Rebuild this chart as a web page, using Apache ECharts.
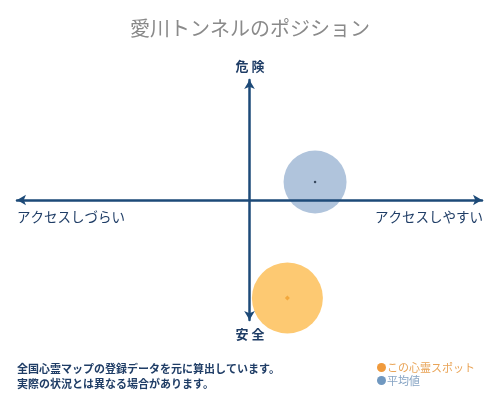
<!DOCTYPE html>
<html><head><meta charset="utf-8">
<script src="https://cdn.jsdelivr.net/npm/echarts@6/dist/echarts.min.js"></script>
<style>html,body{margin:0;padding:0;background:#fff}#c{width:500px;height:400px}</style>
</head><body><div id="c"></div>
<script>
var titleText = '愛川トンネルのポジション';
var axisTop = '危 険', axisBottom = '安 全';
var axisLeft = 'アクセスしづらい', axisRight = 'アクセスしやすい';
var notes = ['全国心霊マップの登録データを元に算出しています。', '実際の状況とは異なる場合があります。'];
var seriesNames = ['この心霊スポット', '平均値'];
var spotPoint = [16.3, -81.7];
var avgPoint = [28.2, 15];

var FONT = '"Noto Sans CJK JP", sans-serif';
var NAVY = '#1d4a78';
var chart = echarts.init(document.getElementById('c'));
chart.setOption({
  animation: false,
  backgroundColor: '#fff',
  title: [
    {text: titleText, left: 'center', top: 18, padding: 0, textStyle: {fontFamily: FONT, fontSize: 20, fontWeight: 'normal', color: '#8a8a8a'}},
    {text: axisTop, left: 'center', top: 60, padding: 0, textStyle: {fontFamily: FONT, fontSize: 13, fontWeight: 'bold', color: '#1f3d66'}},
    {text: axisBottom, left: 'center', top: 328, padding: 0, textStyle: {fontFamily: FONT, fontSize: 13, fontWeight: 'bold', color: '#1f3d66'}},
    {text: axisLeft, left: 17, top: 210, padding: 0, textStyle: {fontFamily: FONT, fontSize: 13.5, fontWeight: 'normal', color: '#1f3d66'}},
    {text: axisRight, right: 17, top: 210, padding: 0, textStyle: {fontFamily: FONT, fontSize: 13.5, fontWeight: 'normal', color: '#1f3d66'}},
    {text: notes.join('\n'), left: 17, top: 361, padding: 0, textStyle: {fontFamily: FONT, fontSize: 11, fontWeight: 'bold', color: '#1f3d66', lineHeight: 15}}
  ],
  legend: {
    orient: 'vertical', left: 377, top: 362, padding: 0, itemWidth: 9, itemHeight: 9, itemGap: 2,
    icon: 'circle',
    data: [
      {name: seriesNames[0], itemStyle: {color: '#f09a3c'}, textStyle: {color: '#e9a457'}},
      {name: seriesNames[1], itemStyle: {color: '#7098c0'}, textStyle: {color: '#86a4c4'}}
    ],
    textStyle: {fontFamily: FONT, fontSize: 11, padding: [0, 0, 0, -4]}
  },
  grid: {left: 17, right: 18, top: 80, bottom: 80},
  xAxis: {
    type: 'value', min: -100, max: 100, z: 10,
    axisLine: {onZero: true, lineStyle: {color: NAVY, width: 2.5}, symbol: ['arrow', 'arrow'], symbolSize: [8, 9]},
    axisTick: {show: false}, axisLabel: {show: false}, splitLine: {show: false}
  },
  yAxis: {
    type: 'value', min: -100, max: 100, z: 10,
    axisLine: {onZero: true, lineStyle: {color: NAVY, width: 2.5}, symbol: ['arrow', 'arrow'], symbolSize: [8, 9]},
    axisTick: {show: false}, axisLabel: {show: false}, splitLine: {show: false}
  },
  series: [
    {name: seriesNames[1], type: 'scatter', data: [avgPoint], symbolSize: 63, itemStyle: {color: '#b0c4dc', opacity: 1}, z: 2},
    {name: seriesNames[0], type: 'scatter', data: [spotPoint], symbolSize: 71, itemStyle: {color: '#fdc972', opacity: 1}, z: 2},
    {name: 'avgDot', type: 'scatter', data: [avgPoint], symbolSize: 2.5, itemStyle: {color: '#1a2a40'}, z: 3},
    {name: 'spotDot', type: 'scatter', data: [spotPoint], symbol: 'diamond', symbolSize: 5, itemStyle: {color: '#f0a030'}, z: 3}
  ]
});
</script></body></html>
